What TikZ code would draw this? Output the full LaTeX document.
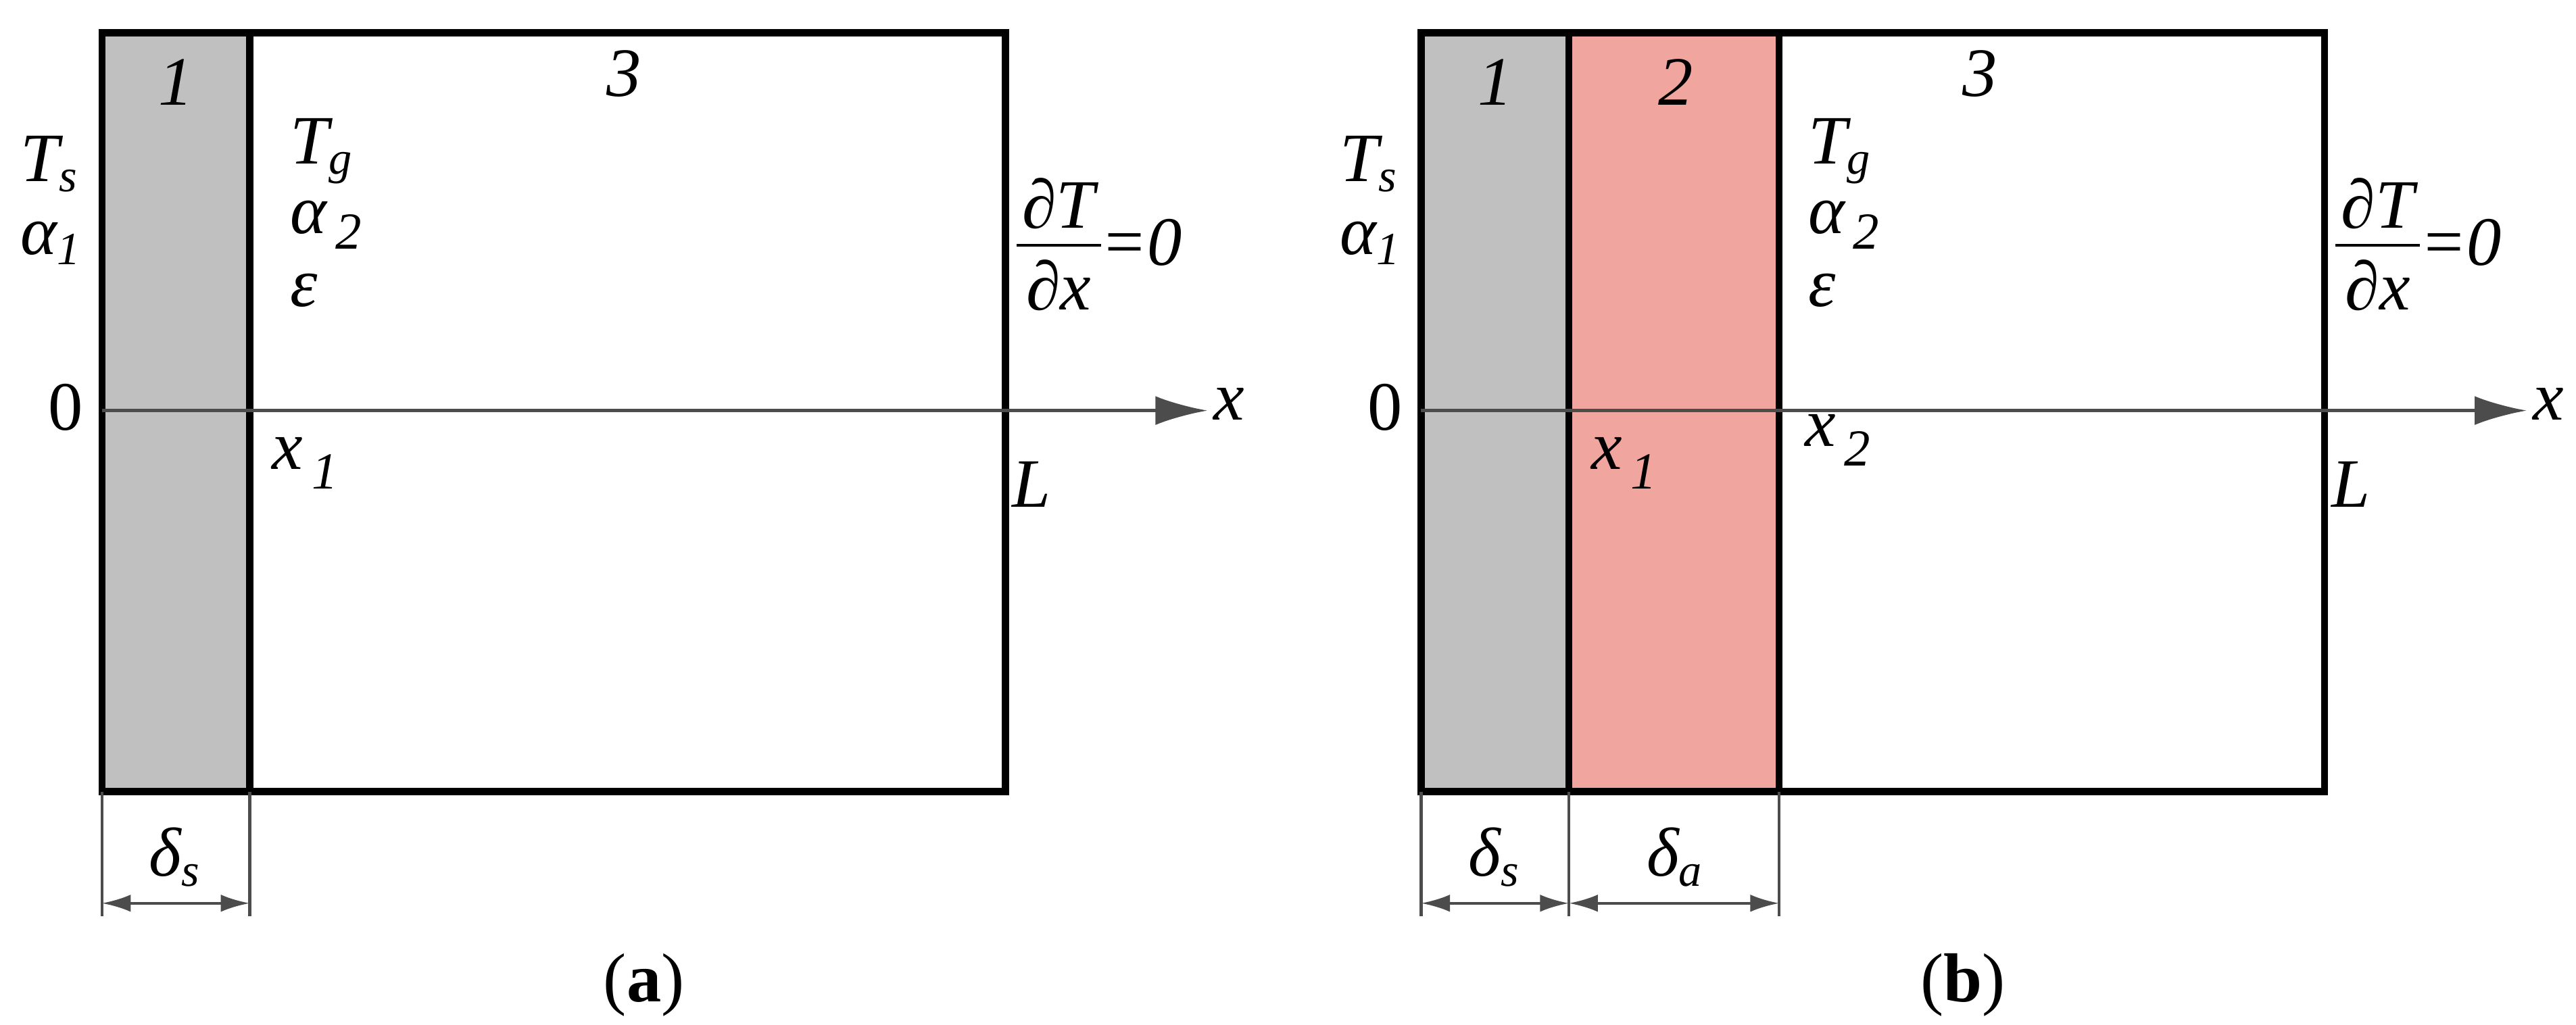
\documentclass[tikz,border=0pt]{standalone}
\usepackage{fontspec}
\setmainfont{Liberation Serif}
\usetikzlibrary{arrows.meta}
\definecolor{grayfill}{HTML}{C0C0C0}
\definecolor{redfill}{HTML}{F0A59F}
\newcommand{\dTdx}{\renewcommand{\arraystretch}{0.9}\setlength{\tabcolsep}{1pt}\begin{tabular}{c}∂T\\[-1pt]\hline\rule{0pt}{11pt}∂x\end{tabular}\raisebox{0.2ex}{=0}}
\tikzset{
 box/.style={draw=black, line width=1.2pt},
 axis/.style={draw=black!70, line width=0.6pt, -{Latex[length=9pt,width=5pt]}},
 tick/.style={draw=black!70, line width=0.5pt},
 dim/.style={draw=black!70, line width=0.5pt, {Latex[length=5pt,width=3pt]}-{Latex[length=5pt,width=3pt]}},
 lab/.style={font=\fontsize{12}{14}\selectfont\itshape, inner sep=0pt},
 captext/.style={font=\fontsize{12}{14}\selectfont, inner sep=0pt}
}
\begin{document}
\begin{tikzpicture}[x=0.01cm,y=-0.01cm]
\useasboundingbox (0,0) rectangle (1568,624);
% panel a
\fill[grayfill] (62,20) rectangle (152,482);
\draw[box] (62,20) rectangle (612,482);
\draw[box] (152,20) -- (152,482);
\coordinate (a0) at (62,250); \coordinate (aend) at (735,250);
\draw[axis] (a0) -- (aend);
\node[lab, anchor=west] (ax) at (738,246) {x};
\node[captext] (azero) at (40,248) {0};
\node[lab] (a1) at (107,50) {1};
\node[lab] (a3) at (380,45) {3};
\node[lab, anchor=west] (aTs) at (12,100) {T\textsubscript{s}};
\node[lab, anchor=west] (aal) at (12,148) {α\textsubscript{1}};
\node[lab, anchor=west] (aTg) at (176,92) {T\textsubscript{g}};
\node[lab, anchor=west] (aa2) at (176,137) {α\raisebox{-0.5ex}{\fontsize{9}{9}\selectfont\,2}};
\node[lab, anchor=west] (aeps) at (176,177) {ε};
\node[lab, anchor=west] (abc) at (618,155) {\dTdx};
\node[lab, anchor=west] (ax1) at (165,282) {x\raisebox{-0.6ex}{\fontsize{9}{9}\selectfont\,1}};
\node[lab] (aL) at (628,295) {L};
\coordinate (at1) at (62,482); \coordinate (at1b) at (62,558);
\coordinate (at2) at (152,482); \coordinate (at2b) at (152,558);
\draw[tick] (at1) -- (at1b); \draw[tick] (at2) -- (at2b);
\coordinate (ad1) at (62,550); \coordinate (ad2) at (152,550);
\draw[dim] (ad1) -- (ad2);
\node[lab] (ads) at (107,522) {δ\textsubscript{s}};
\node[captext] (acap) at (392,600) {(\textbf{a})};
% panel b
\fill[grayfill] (865,20) rectangle (955,482);
\fill[redfill] (955,20) rectangle (1083,482);
\draw[box] (865,20) rectangle (1415,482);
\draw[box] (955,20) -- (955,482);
\draw[box] (1083,20) -- (1083,482);
\coordinate (b0) at (865,250); \coordinate (bend) at (1538,250);
\draw[axis] (b0) -- (bend);
\node[lab, anchor=west] (bx) at (1541,246) {x};
\node[captext] (bzero) at (843,248) {0};
\node[lab] (b1) at (910,50) {1};
\node[lab] (b2) at (1020,50) {2};
\node[lab] (b3) at (1205,45) {3};
\node[lab, anchor=west] (bTs) at (815,100) {T\textsubscript{s}};
\node[lab, anchor=west] (bal) at (815,148) {α\textsubscript{1}};
\node[lab, anchor=west] (bTg) at (1100,92) {T\textsubscript{g}};
\node[lab, anchor=west] (ba2) at (1100,137) {α\raisebox{-0.5ex}{\fontsize{9}{9}\selectfont\,2}};
\node[lab, anchor=west] (beps) at (1100,177) {ε};
\node[lab, anchor=west] (bbc) at (1421,155) {\dTdx};
\node[lab, anchor=west] (bx1) at (968,282) {x\raisebox{-0.6ex}{\fontsize{9}{9}\selectfont\,1}};
\node[lab, anchor=west] (bx2) at (1098,268) {x\raisebox{-0.6ex}{\fontsize{9}{9}\selectfont\,2}};
\node[lab] (bL) at (1431,295) {L};
\coordinate (bt1) at (865,482); \coordinate (bt1b) at (865,558);
\coordinate (bt2) at (955,482); \coordinate (bt2b) at (955,558);
\coordinate (bt3) at (1083,482); \coordinate (bt3b) at (1083,558);
\draw[tick] (bt1) -- (bt1b); \draw[tick] (bt2) -- (bt2b); \draw[tick] (bt3) -- (bt3b);
\coordinate (bd1) at (865,550); \coordinate (bd2) at (955,550); \coordinate (bd3) at (1083,550);
\draw[dim] (bd1) -- (bd2); \draw[dim] (bd2) -- (bd3);
\node[lab] (bds) at (910,522) {δ\textsubscript{s}};
\node[lab] (bda) at (1020,522) {δ\textsubscript{a}};
\node[captext] (bcap) at (1195,600) {(\textbf{b})};
\end{tikzpicture}
\end{document}
